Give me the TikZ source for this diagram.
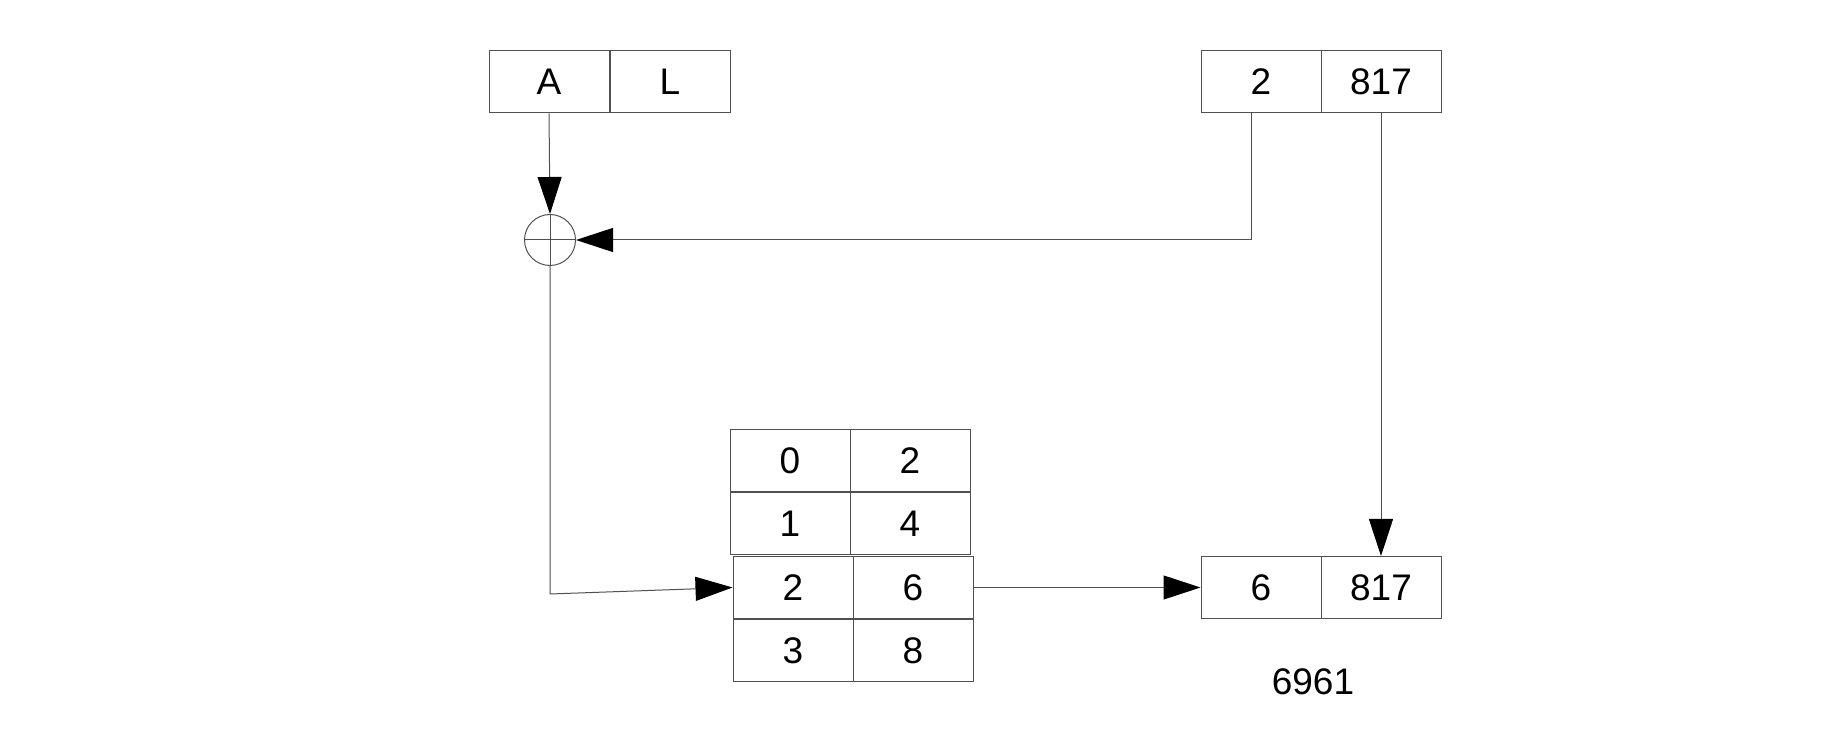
\documentclass[tikz,border=0pt]{standalone}
\usepackage{fontspec}
\setmainfont{Liberation Sans}
\usetikzlibrary{arrows.meta}
\definecolor{ln}{HTML}{505050}
\begin{document}
\begin{tikzpicture}[x=0.5pt,y=-0.5pt,
  cell/.style={draw=ln,line width=0.5pt,inner sep=0pt,minimum width=60pt,minimum height=31pt,font=\fontsize{18.5}{20}\selectfont},
  conn/.style={draw=ln,line width=0.5pt},
  arr/.style={conn,-{Triangle[length=18.5pt,width=12pt,color=black]}}]
\useasboundingbox (0,0) rectangle (1844,732);
% top left box
\node[cell] (A) at (549,82) {A};
\node[cell] (L) at (670,82) {L};
% top right box
\node[cell] (t2) at (1261,82) {2};
\node[cell] (t817) at (1381,82) {817};
% xor circle
\node[draw=ln,line width=0.5pt,circle,minimum size=25.5pt,inner sep=0pt] (xr) at (550,240) {};
\draw[conn] (xr.west) -- (xr.east);
\draw[conn] (xr.north) -- (xr.south);
% table
\node[cell] (r0a) at (790,461) {0};
\node[cell] (r0b) at (910,461) {2};
\node[cell] (r1a) at (790,524) {1};
\node[cell] (r1b) at (910,524) {4};
\node[cell] (r2a) at (793,587.5) {2};
\node[cell] (r2b) at (913,587.5) {6};
\node[cell] (r3a) at (793,651) {3};
\node[cell] (r3b) at (913,651) {8};
% bottom right box
\node[cell] (b6) at (1261,587.5) {6};
\node[cell] (b817) at (1381,587.5) {817};
\node[font=\fontsize{18.5}{20}\selectfont] (lbl) at (1313,682) {6961};
% connectors
\coordinate (k1) at (1251,240);
\coordinate (k2) at (550,594);
\draw[arr] (A.south) -- (xr.north);
\draw[arr] (k1 |- t2.south) -- (k1) -- (xr.east);
\draw[arr] (t817.south) -- (b817.north);
\draw[arr] (xr.south) -- (k2) -- (r2a.west);
\draw[arr] (r2b.east) -- (b6.west);
\end{tikzpicture}
\end{document}
